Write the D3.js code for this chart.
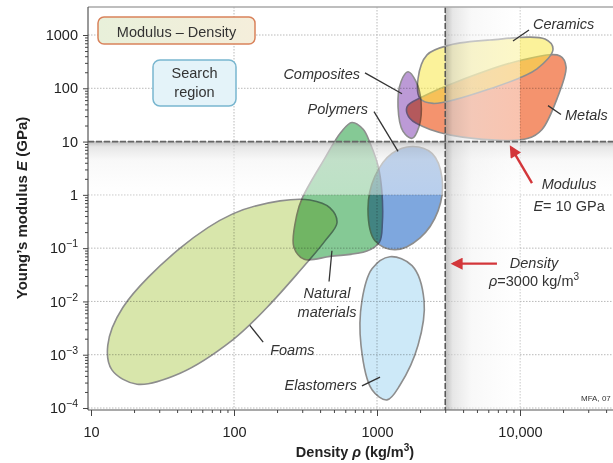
<!DOCTYPE html>
<html>
<head>
<meta charset="utf-8">
<script src="https://cdn.jsdelivr.net/npm/d3@7"></script>
<style>
body{margin:0;background:#fff;}
svg{display:block;font-family:"Liberation Sans",Arial,Helvetica,sans-serif;}
</style>
</head>
<body>
<svg id="chart" width="613" height="463"></svg>
<script>
// axis ticks
const xTicks = [10, 100, 1000, 10000]
const xTickLabels = ['10', '100', '1000', '10,000']
const yTicks = [1e-4, 1e-3, 1e-2, 1e-1, 1, 10, 100, 1000]
const yTickLabels = [['10', '−4'], ['10', '−3'], ['10', '−2'], ['10', '−1'], ['1', ''], ['10', ''], ['100', ''], ['1000', '']]

// search limits
const densityLimit = 3000
const modulusLimit = 10
const densityShadeEnd = 10000
const modulusShadeEnd = 1

// material envelopes, [density (kg/m3), modulus (GPa)]
const foams = [[340, 0.8], [469, 0.57], [525, 0.3], [433, 0.137], [290, 0.038], [170, 0.0077], [98, 0.0019], [42, 4.5e-4], [21, 2.8e-4], [14, 5.2e-4], [13.1, 1.5e-3], [16.7, 7.7e-3], [42, 0.1], [98, 0.44], [210, 0.77]]
const naturalMaterials = [[668, 22.8], [800, 17], [900, 9], [1020, 3.4], [1080, 1.2], [1090, 0.3], [1040, 0.13], [850, 0.088], [470, 0.07], [310, 0.062], [262, 0.105], [275, 0.42], [300, 0.87], [420, 4.3], [560, 15]]
const polymers = [[1786, 8.1], [2427, 6.0], [2850, 2.06], [2673, 0.5], [2000, 0.156], [1337, 0.093], [968, 0.137], [865, 0.54], [968, 2.24], [1274, 6.0]]
const elastomers = [[1233, 0.069], [1758, 0.047], [2133, 0.0104], [1936, 0.0015], [1449, 2.7e-4], [1175, 1.42e-4], [923, 2.2e-4], [773, 0.0015], [785, 0.0104], [923, 0.041]]
const composites = [[1648, 204], [1875, 133], [2032, 56], [1968, 19.2], [1758, 11.5], [1521, 15.5], [1403, 45], [1472, 133]]
const ceramics = [[2239, 424], [3236, 650], [6166, 807], [14960, 842], [17020, 548], [13150, 232], [6166, 98], [2466, 52], [2000, 64], [1936, 151]]
const metals = [[1622, 45], [2099, 70], [3622, 133], [10500, 342], [19050, 405], [20990, 253], [18160, 64], [14260, 16.9], [11380, 11.5], [4690, 11.5], [2350, 16.9], [1702, 27]]

// label anchors and leader lines, in data units
const materialLabels = [
    {lines: ['Ceramics'], at: [12330, 1294], anchor: 'start', leader: [[11560, 1240], [8930, 773]]},
    {lines: ['Composites'], at: [760, 151], anchor: 'end', leader: [[824, 195], [1496, 79]]},
    {lines: ['Polymers'], at: [865, 33.6], anchor: 'end', leader: [[953, 36.6], [1403, 6.56]]},
    {lines: ['Metals'], at: [20650, 25.9], anchor: 'start', leader: [[15700, 47.3], [19350, 32.1]]},
    {lines: ['Natural', 'materials'], at: [447, 0.0114], anchor: 'middle', leader: [[462, 0.0236], [484, 0.0893]]},
    {lines: ['Foams'], at: [179, 9.8e-4], anchor: 'start', leader: [[160, 0.00172], [129, 0.00356]]},
    {lines: ['Elastomers'], at: [725, 2.19e-4], anchor: 'end', leader: [[785, 2.6e-4], [1050, 3.8e-4]]}
]
const modulusNote = {at: [22030, 1.28], arrow: [[12130, 1.66], [8650, 7.8]]}
const densityNote = {at: [12530, 0.043], arrow: [[6900, 0.0512], [3400, 0.0512]]}

const svg = d3.select('#chart')
const plot = {left: 88, top: 7, right: 613, bottom: 410}

const x = d3.scaleLog().domain([10, 10000]).range([91, 520])
const y = d3.scaleLog().domain([1e-4, 1000]).range([408, 35])

svg.append('rect').attr('width', 613).attr('height', 463).attr('fill', '#fff')

const defs = svg.append('defs')
function shade(id, horizontal){
    const g = defs.append('linearGradient').attr('id', id)
        .attr('x1', 0).attr('y1', 0).attr('x2', horizontal ? 1 : 0).attr('y2', horizontal ? 0 : 1)
    const stops = [[0, '#9c9c9c', 0.65], [0.1, '#d6d6d6', 0.6], [0.35, '#f3f3f3', 0.55], [1, '#ffffff', 0.45]]
    stops.forEach(s => g.append('stop').attr('offset', s[0]).attr('stop-color', s[1]).attr('stop-opacity', s[2]))
}
shade('shadeX', true)
shade('shadeY', false)
const boxGrad = defs.append('linearGradient').attr('id', 'boxGrad')
boxGrad.append('stop').attr('offset', 0).attr('stop-color', '#e8f0da')
boxGrad.append('stop').attr('offset', 1).attr('stop-color', '#f5eedb')
defs.append('marker').attr('id', 'arrow')
    .attr('viewBox', '0 0 10 10').attr('refX', 8).attr('refY', 5)
    .attr('markerUnits', 'userSpaceOnUse').attr('markerWidth', 13).attr('markerHeight', 12)
    .attr('orient', 'auto')
    .append('path').attr('d', 'M0,0L10,5L0,10z').attr('fill', '#d3363a')

// grid
const grid = svg.append('g')
grid.selectAll('.gx').data(xTicks.filter(d => d > 10)).join('line')
    .attr('x1', d => x(d)).attr('x2', d => x(d))
    .attr('y1', plot.top).attr('y2', plot.bottom)
    .attr('stroke', '#b9b9b9').attr('stroke-dasharray', '1.5,1.5')
grid.selectAll('.gy').data(yTicks).join('line')
    .attr('x1', plot.left).attr('x2', plot.right)
    .attr('y1', d => y(d)).attr('y2', d => y(d))
    .attr('stroke', '#b9b9b9').attr('stroke-dasharray', '1.5,1.5')

// material envelopes
const materials = [
    {pts: foams, fill: '#d8e6ab', op: 1, blend: 'multiply'},
    {pts: naturalMaterials, fill: '#85c995', op: 1, blend: 'multiply'},
    {pts: elastomers, fill: '#cde9f8', op: 1, blend: 'multiply'},
    {pts: polymers, fill: '#7ea7de', op: 1, blend: 'multiply'},
    {pts: metals, fill: '#f4936e', op: 1, blend: 'multiply'},
    {pts: ceramics, fill: '#f8e747', op: 0.55, blend: 'normal'},
    {pts: composites, fill: '#bc9ad6', op: 1, blend: 'multiply'}
]
const outline = d3.line()
    .x(d => x(d[0])).y(d => y(d[1]))
    .curve(d3.curveCatmullRomClosed.alpha(0.5))

svg.append('g').selectAll('path').data(materials).join('path')
    .attr('d', d => outline(d.pts))
    .attr('fill', d => d.fill)
    .attr('fill-opacity', d => d.op)
    .attr('stroke', '#8d8d8d')
    .attr('stroke-width', 1.6)
    .style('mix-blend-mode', d => d.blend)

// shaded bands next to the limits
svg.append('rect')
    .attr('x', plot.left + 1).attr('y', y(modulusLimit))
    .attr('width', plot.right - plot.left).attr('height', y(modulusShadeEnd) - y(modulusLimit))
    .attr('fill', 'url(#shadeY)')
svg.append('rect')
    .attr('x', x(densityLimit)).attr('y', plot.top)
    .attr('width', x(densityShadeEnd) - x(densityLimit)).attr('height', plot.bottom - plot.top)
    .attr('fill', 'url(#shadeX)')

svg.append('line')
    .attr('x1', plot.left).attr('x2', plot.right)
    .attr('y1', y(modulusLimit)).attr('y2', y(modulusLimit))
    .attr('stroke', '#666').attr('stroke-width', 1.8).attr('stroke-dasharray', '6,2')
svg.append('line')
    .attr('x1', x(densityLimit)).attr('x2', x(densityLimit))
    .attr('y1', plot.top).attr('y2', plot.bottom)
    .attr('stroke', '#555').attr('stroke-width', 1.5).attr('stroke-dasharray', '6,2')

// frame
svg.append('line').attr('x1', plot.left).attr('x2', plot.right).attr('y1', plot.top).attr('y2', plot.top)
    .attr('stroke', '#a8a8a8').attr('stroke-width', 1.5)
svg.append('line').attr('x1', plot.left).attr('x2', plot.left).attr('y1', plot.top).attr('y2', plot.bottom)
    .attr('stroke', '#555').attr('stroke-width', 1.2)
svg.append('line').attr('x1', plot.left).attr('x2', plot.right).attr('y1', plot.bottom).attr('y2', plot.bottom)
    .attr('stroke', '#555').attr('stroke-width', 1.2)

// axes
const minorTicks = (lo, hi) => {
    const v = []
    for (let p = lo; p < hi; p++) for (let k = 2; k < 10; k++) v.push(k * Math.pow(10, p))
    return v
}

const xMinor = svg.append('g').attr('transform', `translate(0,${plot.bottom})`)
    .call(d3.axisBottom(x).tickValues(minorTicks(1, 5)).tickSize(3).tickFormat(''))
const xAxis = svg.append('g').attr('transform', `translate(0,${plot.bottom})`)
    .call(d3.axisBottom(x).tickValues(xTicks).tickSize(6).tickPadding(11).tickFormat((d, i) => xTickLabels[i]))
const yMinor = svg.append('g').attr('transform', `translate(${plot.left},0)`)
    .call(d3.axisLeft(y).tickValues(minorTicks(-4, 3)).tickSize(3).tickFormat(''))
const yAxis = svg.append('g').attr('transform', `translate(${plot.left},0)`)
    .call(d3.axisLeft(y).tickValues(yTicks).tickSize(5).tickPadding(5).tickFormat(''))

;[xMinor, xAxis, yMinor, yAxis].forEach(g => {
    g.select('.domain').remove()
    g.selectAll('.tick line').attr('stroke', '#444')
    g.selectAll('.tick text').attr('font-size', 14.5).attr('fill', '#222')
        .attr('font-family', '"Liberation Sans",Arial,sans-serif')
})

yAxis.selectAll('.tick').each(function(d, i){
    const t = d3.select(this).select('text').text(null)
    t.append('tspan').text(yTickLabels[i][0])
    if (yTickLabels[i][1]) t.append('tspan').attr('dy', -6).attr('font-size', 10.5).text(yTickLabels[i][1])
})

// axis titles
const yTitle = svg.append('text')
    .attr('transform', 'translate(27,208) rotate(-90)')
    .attr('text-anchor', 'middle').attr('font-size', 15).attr('font-weight', 'bold').attr('fill', '#222')
yTitle.append('tspan').text('Young’s modulus ')
yTitle.append('tspan').attr('font-style', 'italic').text('E')
yTitle.append('tspan').text(' (GPa)')

const xTitle = svg.append('text')
    .attr('x', 355).attr('y', 457)
    .attr('text-anchor', 'middle').attr('font-size', 14.5).attr('font-weight', 'bold').attr('fill', '#222')
xTitle.append('tspan').text('Density ')
xTitle.append('tspan').attr('font-style', 'italic').text('ρ')
xTitle.append('tspan').text(' (kg/m')
xTitle.append('tspan').attr('dy', -6).attr('font-size', 10).text('3')
xTitle.append('tspan').attr('dy', 6).text(')')

// material labels with leader lines
const labels = svg.append('g')
labels.selectAll('line').data(materialLabels).join('line')
    .attr('x1', d => x(d.leader[0][0])).attr('y1', d => y(d.leader[0][1]))
    .attr('x2', d => x(d.leader[1][0])).attr('y2', d => y(d.leader[1][1]))
    .attr('stroke', '#333').attr('stroke-width', 1.3)
labels.selectAll('text').data(materialLabels).join('text')
    .attr('x', d => x(d.at[0])).attr('y', d => y(d.at[1]))
    .attr('text-anchor', d => d.anchor)
    .attr('font-size', 14.5).attr('font-style', 'italic').attr('fill', '#333')
    .each(function(d){
        const t = d3.select(this)
        d.lines.forEach((s, i) => t.append('tspan').attr('x', x(d.at[0])).attr('dy', i ? 19 : 0).text(s))
    })

// limit notes with arrows
;[modulusNote, densityNote].forEach(n => {
    svg.append('line')
        .attr('x1', x(n.arrow[0][0])).attr('y1', y(n.arrow[0][1]))
        .attr('x2', x(n.arrow[1][0])).attr('y2', y(n.arrow[1][1]))
        .attr('stroke', '#d3363a').attr('stroke-width', 2.4)
        .attr('marker-end', 'url(#arrow)')
})

const mNote = svg.append('text').attr('x', x(modulusNote.at[0])).attr('y', y(modulusNote.at[1]))
    .attr('text-anchor', 'middle').attr('font-size', 14.5).attr('fill', '#333')
mNote.append('tspan').attr('font-style', 'italic').text('Modulus')
mNote.append('tspan').attr('x', x(modulusNote.at[0])).attr('dy', 22).attr('font-style', 'italic').text('E')
mNote.append('tspan').text('= 10 GPa')

const dNote = svg.append('text').attr('x', x(densityNote.at[0])).attr('y', y(densityNote.at[1]))
    .attr('text-anchor', 'middle').attr('font-size', 14.5).attr('fill', '#333')
dNote.append('tspan').attr('font-style', 'italic').text('Density')
dNote.append('tspan').attr('x', x(densityNote.at[0])).attr('dy', 18).attr('font-style', 'italic').text('ρ')
dNote.append('tspan').text('=3000 kg/m')
dNote.append('tspan').attr('dy', -6).attr('font-size', 10).text('3')

// title boxes
svg.append('rect').attr('x', 98).attr('y', 17).attr('width', 157).attr('height', 27).attr('rx', 6)
    .attr('fill', 'url(#boxGrad)').attr('stroke', '#d9825b').attr('stroke-width', 1.5)
svg.append('text').attr('x', 176.5).attr('y', 37).attr('text-anchor', 'middle')
    .attr('font-size', 14.5).attr('fill', '#333').text('Modulus – Density')

svg.append('rect').attr('x', 153).attr('y', 60).attr('width', 83).attr('height', 46).attr('rx', 7)
    .attr('fill', '#e4f3f9').attr('stroke', '#78b6cf').attr('stroke-width', 1.5)
svg.append('text').attr('x', 194.5).attr('y', 78).attr('text-anchor', 'middle')
    .attr('font-size', 14.5).attr('fill', '#333').text('Search')
svg.append('text').attr('x', 194.5).attr('y', 97).attr('text-anchor', 'middle')
    .attr('font-size', 14.5).attr('fill', '#333').text('region')

svg.append('text').attr('x', 581).attr('y', 401).attr('font-size', 8).attr('fill', '#333').text('MFA, 07')
</script>
</body>
</html>
